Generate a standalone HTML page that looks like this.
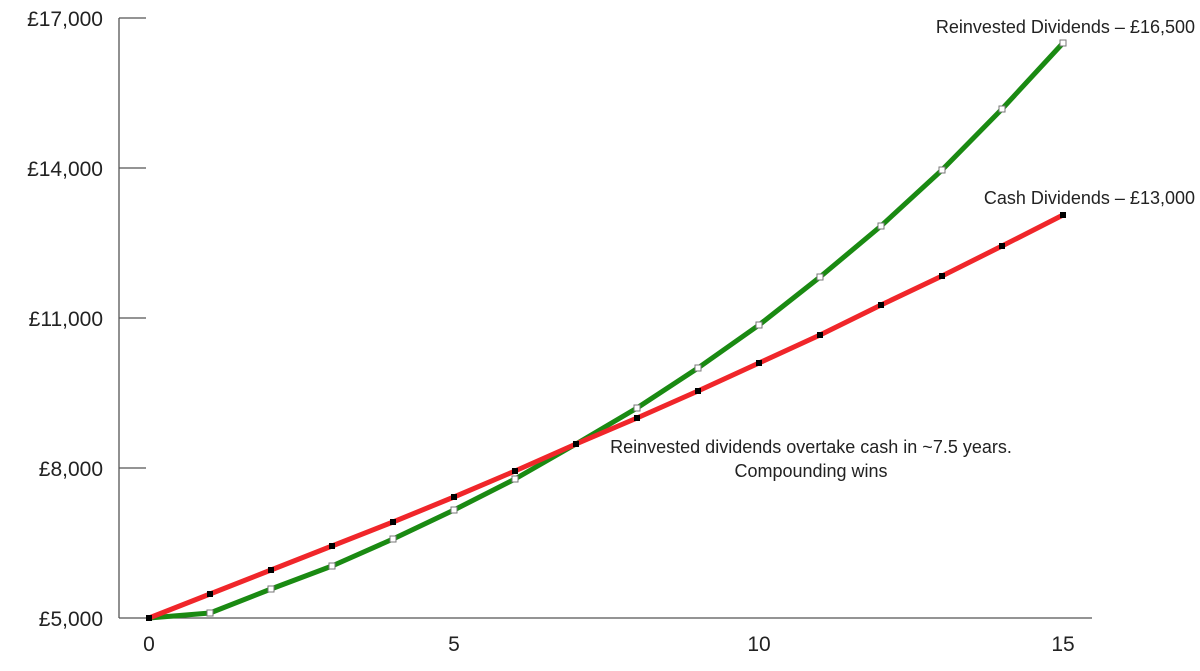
<!DOCTYPE html>
<html><head><meta charset="utf-8"><style>
html,body{margin:0;padding:0;background:#fff;}
svg{display:block;font-family:"Liberation Sans",sans-serif;}
</style></head><body>
<svg width="1200" height="671" viewBox="0 0 1200 671">
<g stroke="#555" stroke-width="1.3" fill="none">
<line x1="119" y1="18" x2="119" y2="618"/>
<line x1="119" y1="618" x2="1092" y2="618"/>
<line x1="119" y1="18" x2="146" y2="18"/>
<line x1="119" y1="168" x2="146" y2="168"/>
<line x1="119" y1="318" x2="146" y2="318"/>
<line x1="119" y1="468" x2="146" y2="468"/>
</g>
<g font-size="21" fill="#222" text-anchor="end">
<text x="103" y="26">£17,000</text>
<text x="103" y="176">£14,000</text>
<text x="103" y="326">£11,000</text>
<text x="103" y="476">£8,000</text>
<text x="103" y="626">£5,000</text>
</g>
<g font-size="21" fill="#222" text-anchor="middle">
<text x="149" y="651">0</text>
<text x="454" y="651">5</text>
<text x="759" y="651">10</text>
<text x="1063" y="651">15</text>
</g>
<polyline fill="none" stroke="#1a8a12" stroke-width="5" stroke-linejoin="round" points="149,618 210,613 271,589 332,566 393,539 454,510 515,479 576,444 637,408 698,368 759,325 820,277 881,226 942,170 1002,109 1063,43"/>
<polyline fill="none" stroke="#f0262a" stroke-width="5" stroke-linejoin="round" points="149,618 210,594 271,570 332,546 393,522 454,497 515,471 576,444 637,418 698,391 759,363 820,335 881,305 942,276 1002,246 1063,215"/>
<g fill="#fff" stroke="#777" stroke-width="1">
<rect x="207" y="610" width="6" height="6"/><rect x="268" y="586" width="6" height="6"/><rect x="329" y="563" width="6" height="6"/><rect x="390" y="536" width="6" height="6"/><rect x="451" y="507" width="6" height="6"/><rect x="512" y="476" width="6" height="6"/><rect x="634" y="405" width="6" height="6"/><rect x="695" y="365" width="6" height="6"/><rect x="756" y="322" width="6" height="6"/><rect x="817" y="274" width="6" height="6"/><rect x="878" y="223" width="6" height="6"/><rect x="939" y="167" width="6" height="6"/><rect x="999" y="106" width="6" height="6"/><rect x="1060" y="40" width="6" height="6"/>
</g>
<g fill="#000">
<rect x="146" y="615" width="6" height="6"/><rect x="207" y="591" width="6" height="6"/><rect x="268" y="567" width="6" height="6"/><rect x="329" y="543" width="6" height="6"/><rect x="390" y="519" width="6" height="6"/><rect x="451" y="494" width="6" height="6"/><rect x="512" y="468" width="6" height="6"/><rect x="573" y="441" width="6" height="6"/><rect x="634" y="415" width="6" height="6"/><rect x="695" y="388" width="6" height="6"/><rect x="756" y="360" width="6" height="6"/><rect x="817" y="332" width="6" height="6"/><rect x="878" y="302" width="6" height="6"/><rect x="939" y="273" width="6" height="6"/><rect x="999" y="243" width="6" height="6"/><rect x="1060" y="212" width="6" height="6"/>
</g>
<g font-size="18" fill="#222">
<text x="1195" y="33" text-anchor="end">Reinvested Dividends – £16,500</text>
<text x="1195" y="204" text-anchor="end">Cash Dividends – £13,000</text>
<text x="811" y="453" text-anchor="middle">Reinvested dividends overtake cash in ~7.5 years.</text>
<text x="811" y="477" text-anchor="middle">Compounding wins</text>
</g>
</svg>
</body></html>
